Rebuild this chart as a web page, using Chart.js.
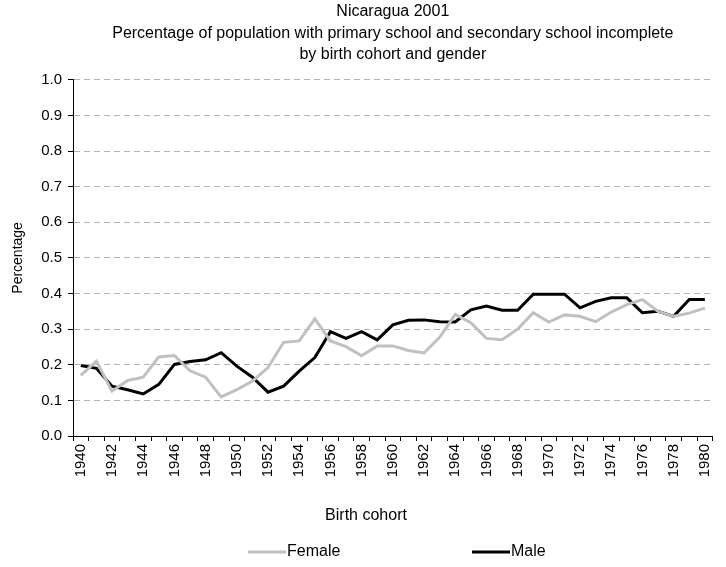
<!DOCTYPE html>
<html>
<head>
<meta charset="utf-8">
<title>Nicaragua 2001</title>
<script src="https://cdn.jsdelivr.net/npm/chart.js@4.4.0/dist/chart.umd.min.js"></script>
<style>
    body { margin: 0; background: #fff; }
    #box { width: 726px; height: 567px; }
</style>
</head>
<body>
<div id="box"><canvas id="chart01" width="726" height="567"></canvas></div>
<script>
const years = ['1940', '1941', '1942', '1943', '1944', '1945', '1946', '1947', '1948', '1949',
    '1950', '1951', '1952', '1953', '1954', '1955', '1956', '1957', '1958', '1959',
    '1960', '1961', '1962', '1963', '1964', '1965', '1966', '1967', '1968', '1969',
    '1970', '1971', '1972', '1973', '1974', '1975', '1976', '1977', '1978', '1979', '1980'];

const female = [0.170, 0.210, 0.126, 0.156, 0.165, 0.222, 0.226, 0.183, 0.165, 0.110,
    0.130, 0.154, 0.192, 0.263, 0.267, 0.329, 0.267, 0.251, 0.225, 0.253,
    0.253, 0.240, 0.233, 0.277, 0.341, 0.318, 0.274, 0.270, 0.300, 0.346,
    0.320, 0.340, 0.336, 0.321, 0.348, 0.369, 0.383, 0.350, 0.336, 0.345, 0.359];

const male = [0.198, 0.190, 0.140, 0.130, 0.118, 0.145, 0.201, 0.209, 0.214, 0.234,
    0.196, 0.165, 0.123, 0.140, 0.182, 0.220, 0.293, 0.274, 0.293, 0.270,
    0.312, 0.325, 0.326, 0.321, 0.320, 0.354, 0.365, 0.353, 0.353, 0.398,
    0.398, 0.398, 0.360, 0.378, 0.388, 0.388, 0.346, 0.350, 0.336, 0.383, 0.383];

const yMin = 0, yMax = 1, yStep = 0.1;
const titleLines = ['Nicaragua 2001',
    'Percentage of population with primary school and secondary school incomplete',
    'by birth cohort and gender'];

const font = 'Liberation Sans, Arial, sans-serif';

// x title + legend drawn by hand, excel style
const bottomText = {
    id: 'bottomText',
    afterDraw(chart) {
        const ctx = chart.ctx;
        ctx.save();
        ctx.fillStyle = '#000';
        ctx.font = '16px ' + font;
        ctx.textBaseline = 'middle';
        ctx.textAlign = 'center';
        ctx.fillText('Birth cohort', 366, 516);

        const spots = [248, 472];
        chart.data.datasets.forEach((ds, i) => {
            const x = spots[i];
            ctx.strokeStyle = ds.borderColor;
            ctx.lineWidth = 3;
            ctx.beginPath();
            ctx.moveTo(x, 552);
            ctx.lineTo(x + 38, 552);
            ctx.stroke();
            ctx.textAlign = 'left';
            ctx.fillText(ds.label, x + 39, 552);
        });
        ctx.restore();
    }
};

const ctx01 = document.getElementById('chart01');
const mainChart = new Chart(ctx01, {
    type: 'line',
    data: {
        labels: years,
        datasets: [{
            label: 'Female',
            data: female,
            borderColor: '#c0c0c0',
            borderWidth: 3,
            pointRadius: 0,
            tension: 0
        }, {
            label: 'Male',
            data: male,
            borderColor: '#000000',
            borderWidth: 3,
            pointRadius: 0,
            tension: 0
        }]
    },
    options: {
        responsive: false,
        animation: false,
        devicePixelRatio: 1,
        layout: { padding: { left: 0, right: 13, top: 0, bottom: 0 } },
        plugins: {
            legend: { display: false },
            tooltip: { enabled: false },
            title: {
                display: true,
                text: titleLines,
                fullSize: false,
                color: '#000',
                font: { family: font, size: 16, weight: 'normal', lineHeight: 1.35 },
                padding: { top: 1, bottom: 14 }
            }
        },
        scales: {
            x: {
                offset: true,
                grid: {
                    offset: true,
                    drawOnChartArea: false,
                    tickLength: 5,
                    tickColor: '#000'
                },
                border: { color: '#000', width: 1 },
                ticks: {
                    autoSkip: false,
                    minRotation: 90,
                    maxRotation: 90,
                    padding: 3,
                    color: '#000',
                    font: { family: font, size: 15 },
                    callback: function (val, i) {
                        return i % 2 == 0 ? this.getLabelForValue(val) : '';
                    }
                },
                afterFit: (scale) => { scale.height = 131; }
            },
            y: {
                min: yMin,
                max: yMax,
                grid: {
                    color: (c) => (c.tick && c.tick.value == 0 ? 'rgba(0,0,0,0)' : '#b4b4b4'),
                    tickColor: '#000',
                    tickLength: 5
                },
                border: { color: '#000', width: 1, dash: [6, 4] },
                ticks: {
                    stepSize: yStep,
                    padding: 6,
                    color: '#000',
                    font: { family: font, size: 15 },
                    callback: (v) => v.toFixed(1)
                },
                title: {
                    display: true,
                    text: 'Percentage',
                    color: '#000',
                    font: { family: font, size: 14 },
                    padding: { top: 10, bottom: 0 }
                },
                afterFit: (scale) => { scale.width = 73; }
            }
        }
    },
    plugins: [bottomText]
});
</script>
</body>
</html>
